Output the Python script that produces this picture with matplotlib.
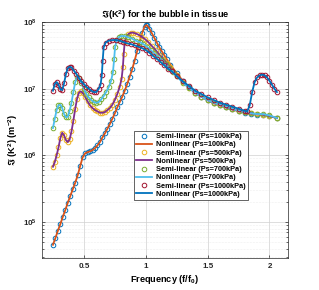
import numpy as np
import matplotlib
matplotlib.use("Agg")
import matplotlib.pyplot as plt
from matplotlib.ticker import LogLocator, NullFormatter

# frequency (f/f0) and log10 of Im(K^2) for each static pressure
x_1000 = [0.25, 0.265, 0.28, 0.295, 0.31, 0.325, 0.34, 0.355, 0.37, 0.385, 0.40, 0.42, 0.44, 0.46, 0.48,
          0.50, 0.52, 0.54, 0.56, 0.58, 0.60, 0.62, 0.635, 0.645, 0.652, 0.66, 0.675, 0.70, 0.73, 0.76,
          0.79, 0.82, 0.85, 0.88, 0.91, 0.94, 0.97, 1.00, 1.03, 1.06, 1.09, 1.12, 1.15, 1.18, 1.21,
          1.25, 1.30, 1.35, 1.40, 1.45, 1.50, 1.55, 1.60, 1.65, 1.70, 1.75, 1.80, 1.82, 1.84, 1.86,
          1.88, 1.90, 1.92, 1.94, 1.96, 1.98, 2.00, 2.02, 2.04, 2.06]
lg_1000 = [6.97, 7.07, 7.10, 7.06, 6.99, 6.98, 7.08, 7.22, 7.31, 7.33, 7.32, 7.27, 7.22, 7.16, 7.11,
           7.07, 7.03, 7.00, 6.97, 6.95, 6.95, 7.00, 7.06, 7.20, 7.42, 7.62, 7.69, 7.72, 7.73, 7.73,
           7.72, 7.70, 7.68, 7.67, 7.65, 7.63, 7.61, 7.58, 7.54, 7.49, 7.45, 7.40, 7.35, 7.30, 7.26,
           7.19, 7.11, 7.04, 6.97, 6.92, 6.87, 6.83, 6.79, 6.76, 6.73, 6.70, 6.67, 6.66, 6.75, 6.95,
           7.10, 7.17, 7.20, 7.21, 7.20, 7.17, 7.12, 7.06, 7.00, 6.95]

x_700 = [0.25, 0.265, 0.28, 0.295, 0.31, 0.325, 0.34, 0.355, 0.37, 0.385, 0.40, 0.415, 0.43, 0.445, 0.46,
         0.48, 0.50, 0.52, 0.54, 0.56, 0.58, 0.60, 0.62, 0.64, 0.66, 0.68, 0.70, 0.72, 0.735, 0.745,
         0.752, 0.765, 0.78, 0.80, 0.83, 0.86, 0.89, 0.92, 0.95, 0.98, 1.01, 1.04, 1.07, 1.10, 1.13,
         1.16, 1.19, 1.22, 1.25, 1.30, 1.35, 1.40, 1.45, 1.50, 1.55, 1.60, 1.65, 1.70, 1.75, 1.80,
         1.85, 1.90, 1.95, 2.00, 2.06]
lg_700 = [6.41, 6.55, 6.68, 6.75, 6.76, 6.71, 6.62, 6.57, 6.58, 6.67, 6.79, 6.95, 7.10, 7.17, 7.16,
          7.09, 7.00, 6.92, 6.87, 6.83, 6.80, 6.79, 6.80, 6.84, 6.89, 6.95, 7.02, 7.12, 7.25, 7.45,
          7.62, 7.73, 7.77, 7.79, 7.79, 7.77, 7.75, 7.72, 7.70, 7.67, 7.63, 7.58, 7.53, 7.48, 7.43,
          7.37, 7.31, 7.25, 7.19, 7.09, 7.01, 6.94, 6.88, 6.83, 6.79, 6.76, 6.73, 6.70, 6.67, 6.65,
          6.63, 6.62, 6.62, 6.60, 6.56]

x_500 = [0.25, 0.265, 0.28, 0.295, 0.31, 0.325, 0.34, 0.355, 0.37, 0.385, 0.40, 0.415, 0.43, 0.445, 0.46,
         0.475, 0.49, 0.51, 0.53, 0.55, 0.57, 0.59, 0.61, 0.63, 0.65, 0.67, 0.69, 0.71, 0.73, 0.75,
         0.77, 0.79, 0.805, 0.815, 0.822, 0.83, 0.845, 0.86, 0.88, 0.90, 0.93, 0.96, 0.99, 1.02, 1.05,
         1.08, 1.11, 1.14, 1.17, 1.20, 1.25, 1.30, 1.35, 1.40, 1.45, 1.50, 1.55, 1.60, 1.65, 1.70,
         1.75, 1.80, 1.85, 1.90, 1.95, 2.00, 2.06]
lg_500 = [5.83, 5.90, 6.00, 6.12, 6.26, 6.34, 6.30, 6.23, 6.20, 6.24, 6.36, 6.52, 6.70, 6.85, 6.94,
          6.96, 6.94, 6.88, 6.81, 6.75, 6.71, 6.68, 6.66, 6.64, 6.64, 6.65, 6.68, 6.71, 6.76, 6.83,
          6.92, 7.03, 7.15, 7.32, 7.52, 7.70, 7.78, 7.82, 7.84, 7.84, 7.82, 7.79, 7.75, 7.70, 7.64,
          7.58, 7.51, 7.45, 7.38, 7.32, 7.20, 7.10, 7.01, 6.94, 6.88, 6.83, 6.79, 6.76, 6.72, 6.69,
          6.67, 6.65, 6.63, 6.62, 6.61, 6.59, 6.56]

x_100 = [0.25, 0.27, 0.29, 0.31, 0.33, 0.35, 0.37, 0.39, 0.41, 0.43, 0.45, 0.47, 0.49, 0.51, 0.53,
         0.55, 0.57, 0.59, 0.61, 0.63, 0.65, 0.67, 0.69, 0.71, 0.73, 0.75, 0.77, 0.79, 0.81, 0.83,
         0.85, 0.87, 0.89, 0.91, 0.93, 0.95, 0.97, 0.99, 1.00, 1.01, 1.03, 1.05, 1.07, 1.09, 1.11,
         1.13, 1.15, 1.17, 1.20, 1.25, 1.30, 1.35, 1.40, 1.45, 1.50, 1.55, 1.60, 1.65, 1.70, 1.75,
         1.80, 1.85, 1.90, 1.95, 2.00, 2.06]
lg_100 = [4.66, 4.76, 4.87, 4.97, 5.08, 5.18, 5.29, 5.39, 5.49, 5.59, 5.70, 5.84, 5.97, 6.03, 6.05,
          6.06, 6.08, 6.11, 6.15, 6.20, 6.27, 6.33, 6.40, 6.47, 6.55, 6.63, 6.72, 6.80, 6.88, 6.97,
          7.07, 7.18, 7.29, 7.42, 7.56, 7.70, 7.83, 7.93, 7.95, 7.95, 7.90, 7.83, 7.76, 7.69, 7.62,
          7.56, 7.50, 7.44, 7.36, 7.23, 7.12, 7.02, 6.94, 6.88, 6.83, 6.78, 6.75, 6.72, 6.69, 6.66,
          6.64, 6.62, 6.61, 6.61, 6.59, 6.56]

pressures = ["100kPa", "500kPa", "700kPa", "1000kPa"]
semi_colors = ["#0072BD", "#EDB120", "#77AC30", "#A2142F"]
nonlin_colors = ["#D95319", "#7E2F8E", "#4DBEEE", "#0072BD"]
series = [(x_100, lg_100), (x_500, lg_500), (x_700, lg_700), (x_1000, lg_1000)]

plt.rcParams['font.family'] = ['Liberation Sans', 'DejaVu Sans']
plt.rcParams['font.weight'] = 'bold'
plt.rcParams['mathtext.default'] = 'regular'

fig = plt.figure(figsize=(3.19, 2.90), dpi=100)
ax = fig.add_axes([0.131, 0.110, 0.772, 0.814])

for p, cs, cn, (xs, lg) in zip(pressures, semi_colors, nonlin_colors, series):
    ys = 10 ** np.array(lg)
    ax.plot(xs, ys, 'o', ms=3.3, mfc='none', mec=cs, mew=0.7, label=f"Semi-linear (Ps={p})")
    ax.plot(xs, ys, '-', color=cn, lw=1.3, label=f"Nonlinear (Ps={p})")

ax.set_yscale('log')
ax.set_xlim(0.16, 2.15)
ax.set_ylim(10 ** 4.46, 1e8)
ax.set_xticks([0.5, 1, 1.5, 2])
ax.set_xticklabels(['0.5', '1', '1.5', '2'])
ax.yaxis.set_major_locator(LogLocator(base=10, numticks=10))
ax.yaxis.set_minor_locator(LogLocator(base=10, subs=np.arange(2, 10), numticks=20))
ax.yaxis.set_minor_formatter(NullFormatter())

ax.grid(True, which='major', color='#d0d0d0', lw=0.5)
ax.grid(True, which='minor', axis='y', color='#e0e0e0', lw=0.4, ls=':')
ax.tick_params(which='both', direction='in', top=True, right=True, labelsize=5.8,
               length=2.5, width=0.5, colors='#262626')
ax.tick_params(which='minor', length=1.5)
for s in ax.spines.values():
    s.set_linewidth(0.5)
    s.set_color('#262626')

ax.set_title(r"$\Im$(K$^2$) for the bubble in tissue", fontsize=6.6, fontweight='bold', pad=3)
ax.set_xlabel(r"Frequency (f/f$_0$)", fontsize=6.6, fontweight='bold', labelpad=2)
ax.set_ylabel(r"$\Im$ (K$^2$) (m$^{-2}$)", fontsize=6.6, fontweight='bold', labelpad=2)

leg = ax.legend(loc='upper left', bbox_to_anchor=(0.358, 0.555), fontsize=5.3,
                labelspacing=0.15, handlelength=2.2, handletextpad=0.5, borderpad=0.3,
                fancybox=False, framealpha=1, edgecolor='#262626')
leg.get_frame().set_linewidth(0.5)

fig.savefig("out.png", dpi=100)
